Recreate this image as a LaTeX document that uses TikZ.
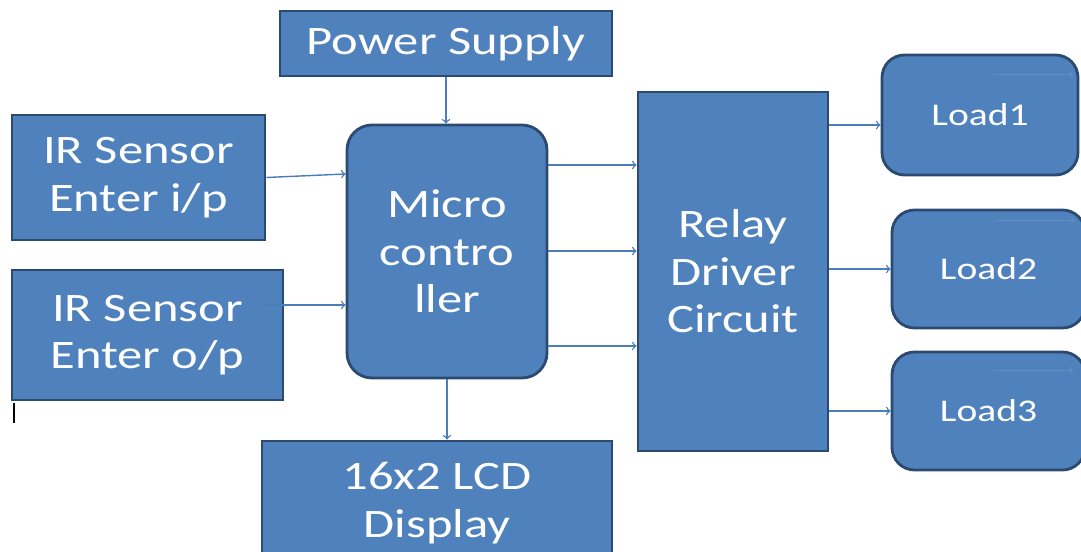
\documentclass[tikz,border=0pt]{standalone}
\usepackage{fontspec}
\setmainfont{Carlito}[FakeStretch=1.25]
\usetikzlibrary{shapes,arrows,positioning}
\definecolor{BlockBlue}{RGB}{79, 129, 189}
\definecolor{EdgeBlue}{RGB}{44, 74, 112}
\definecolor{WireBlue}{RGB}{74, 126, 187}
\definecolor{FaintBlue}{RGB}{98, 142, 196}

\begin{document}
\begin{tikzpicture}[
    block/.style={rectangle, draw=EdgeBlue, fill=BlockBlue, line width=1.6pt, align=center, text=white, font=\fontsize{23}{27}\selectfont},
    rblock/.style={block, rounded corners=0.5cm},
    load/.style={block, rounded corners=0.45cm, font=\fontsize{18}{21}\selectfont},
    arrow/.style={->, line width=0.8pt, >=to, WireBlue},
    faint/.style={->, line width=0.6pt, >=to, FaintBlue}
]
\useasboundingbox (0,0) rectangle (21.62,11.02);
\clip (0,0) rectangle (21.62,11.02);

% Blocks
\node[block, minimum width=6.64cm, minimum height=1.3cm] (power) at (8.92, 10.15) {Power Supply};
\node[block, minimum width=5.06cm, minimum height=2.5cm] (irin) at (2.77, 7.47) {IR Sensor\\Enter i/p};
\node[block, minimum width=5.42cm, minimum height=2.6cm] (irout) at (2.95, 4.32) {IR Sensor\\Enter o/p};
\node[rblock, minimum width=4cm, minimum height=5.06cm] (micro) at (8.94, 5.99) {Micro\\contro\\ller};
\node[block, minimum width=3.8cm, minimum height=7.18cm] (relay) at (14.66, 5.59) {Relay\\Driver\\Circuit};
\node[block, minimum width=7cm, minimum height=2.48cm] (lcd) at (8.74, 0.96) {16x2 LCD\\Display};

% Loads
\node[load, minimum width=3.92cm, minimum height=2.4cm] (load1) at (19.6, 8.72) {Load1};
\node[load, minimum width=3.86cm, minimum height=2.36cm] (load2) at (19.77, 5.64) {Load2};
\node[load, minimum width=3.86cm, minimum height=2.36cm] (load3) at (19.77, 2.8) {Load3};

% Arrows
\draw[arrow] (power.south) -- (power.south |- micro.north);
\draw[arrow] (irin.east) -- ([yshift=2pt]irin.east -| micro.west);
\draw[arrow] ([xshift=-0.4cm, yshift=0.6cm]irout.east) -- ([yshift=0.6cm]irout.east -| micro.west);
\foreach \y in {7.72, 6.0, 4.1}
    \draw[arrow] (micro.east |- 0,\y) -- (relay.west |- 0,\y);
\draw[arrow] (relay.east |- 0,8.52) -- (load1.west |- 0,8.52);
\draw[arrow] (relay.east |- load2.west) -- (load2.west);
\draw[arrow] (relay.east |- load3.west) -- (load3.west);
\draw[arrow] (micro.south) -- (micro.south |- lcd.north);

% Stray arrows inside the loads
\draw[faint] ([shift={(0.26,-0.42)}]load1.north) -- ++(1.6,0);
\draw[faint] ([shift={(0.13,-0.24)}]load2.north) -- ++(1.6,0);
\draw[faint] ([shift={(0.09,-0.4)}]load3.north) -- ++(1.6,0);

% Cursor mark
\draw[line width=1.2pt] ([shift={(0.06,-0.04)}]irout.south west) -- ++(0,-0.4);

\end{tikzpicture}
\end{document}
